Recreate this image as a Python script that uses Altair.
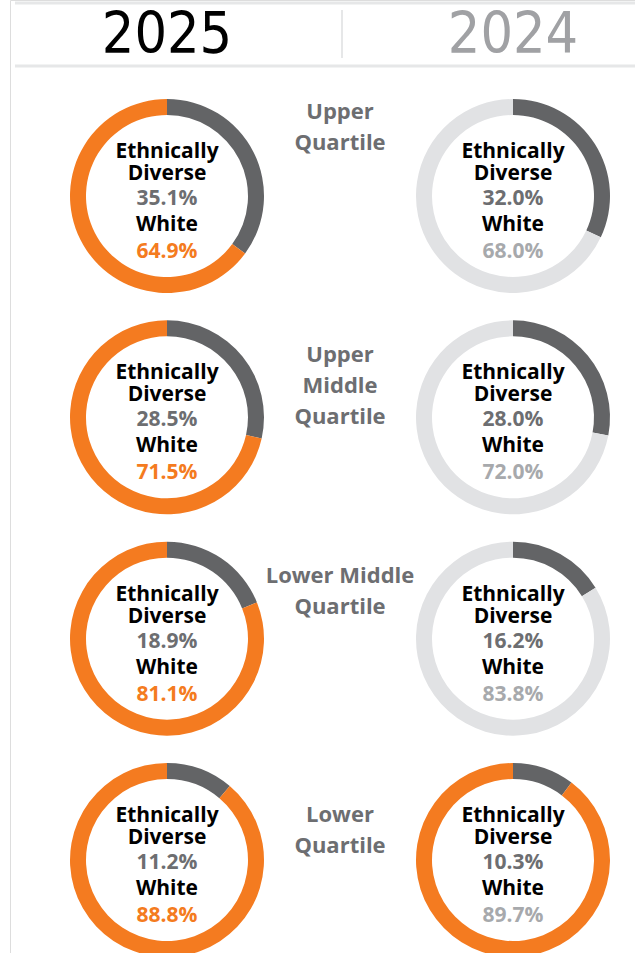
import altair as alt
import pandas as pd

# ---------------- data ----------------
years = ["2025", "2024"]
quartiles = ["Upper Quartile", "Upper Middle Quartile", "Lower Middle Quartile", "Lower Quartile"]
quartile_labels = ["Upper\nQuartile", "Upper\nMiddle\nQuartile", "Lower Middle\nQuartile", "Lower\nQuartile"]
diverse_2025 = [35.1, 28.5, 18.9, 11.2]
white_2025 = [64.9, 71.5, 81.1, 88.8]
diverse_2024 = [32.0, 28.0, 16.2, 10.3]
white_2024 = [68.0, 72.0, 83.8, 89.7]

# ---------------- styles ----------------
ORANGE = "#F47B20"
DARK = "#636466"
LIGHT = "#E1E2E4"
PCT_GRAY = "#6D6E71"
PCT_LIGHT = "#A7A9AC"
LINE = "#E6E7E8"
FONT = "Open Sans"
HEAD_FONT = "DejaVu Sans Condensed, Liberation Sans Narrow, Roboto"

series = {"2025": (diverse_2025, white_2025), "2024": (diverse_2024, white_2024)}

ring_rows, text_rows = [], []
for year in years:
    div, wht = series[year]
    for i, q in enumerate(quartiles):
        white_tone = "orange" if (year == "2025" or q == "Lower Quartile") else "light"
        ring_rows.append(dict(col=year, quartile=q, order=0, value=div[i], tone="dark"))
        ring_rows.append(dict(col=year, quartile=q, order=1, value=wht[i], tone=white_tone))
        text_rows.append(dict(col=year, quartile=q,
                              diverse=f"{div[i]:.1f}%", white=f"{wht[i]:.1f}%",
                              tone="orange" if year == "2025" else "pctlight"))

ring_df = pd.DataFrame(ring_rows)
text_df = pd.DataFrame(text_rows)
label_df = pd.DataFrame({"col": ["mid"] * 4, "quartile": quartiles, "label": quartile_labels})
head_df = pd.DataFrame({"col": years, "year": years, "tone": ["head_black", "head_gray"]})
one_df = pd.DataFrame({"k": [0]})

x_scale = alt.Scale(type="point", domain=["2025", "mid", "2024"], range=[157, 503], padding=0)
y_scale = alt.Scale(type="point", domain=quartiles, range=[196, 860], padding=0)
color_scale = alt.Scale(
    domain=["dark", "orange", "light", "pctlight", "pctgray", "head_black", "head_gray"],
    range=[DARK, ORANGE, LIGHT, PCT_LIGHT, PCT_GRAY, "#000000", "#A0A1A4"],
)

X = alt.X("col:N", scale=x_scale, axis=None)
Y = alt.Y("quartile:N", scale=y_scale, axis=None)

arcs = alt.Chart(ring_df).transform_window(
    end="sum(value)", groupby=["col", "quartile"], sort=[alt.SortField("order")], frame=[None, 0]
).transform_calculate(
    start="datum.end - datum.value"
).mark_arc(outerRadius=97, innerRadius=81).encode(
    x=X, y=Y,
    theta=alt.Theta("start:Q", scale=alt.Scale(domain=[0, 100])),
    theta2="end:Q",
    color=alt.Color("tone:N", scale=color_scale, legend=None),
)

text_base = alt.Chart(text_df)
def const_text(txt, dy):
    return text_base.mark_text(text=txt, dy=dy, font=FONT, fontWeight="bold", fontSize=21,
                               color="#000000", align="center", baseline="middle").encode(x=X, y=Y)

t1 = const_text("Ethnically", -44)
t2 = const_text("Diverse", -22)
t3 = text_base.mark_text(dy=3, font=FONT, fontWeight="bold", fontSize=21, color=PCT_GRAY,
                         align="center", baseline="middle").encode(x=X, y=Y, text="diverse:N")
t4 = const_text("White", 29)
t5 = text_base.mark_text(dy=56, font=FONT, fontWeight="bold", fontSize=21,
                         align="center", baseline="middle").encode(
    x=X, y=Y, text="white:N", color=alt.Color("tone:N", scale=color_scale, legend=None))

label_dys = [-84, -62, -63, -45]
labels = []
for q, dy in zip(quartiles, label_dys):
    labels.append(
        alt.Chart(label_df).transform_filter(alt.datum.quartile == q).mark_text(
            dy=dy, font=FONT, fontWeight="bold", fontSize=22, color=PCT_GRAY, lineBreak="\n",
            lineHeight=31, align="center", baseline="middle").encode(x=X, y=Y, text="label:N")
    )

header = alt.Chart(head_df).mark_text(font=HEAD_FONT, fontSize=57, align="center",
                                      baseline="middle").encode(
    x=X, y=alt.value(36), text="year:N",
    color=alt.Color("tone:N", scale=color_scale, legend=None))

rule_top = alt.Chart(one_df).mark_rule(color=LINE, strokeWidth=3).encode(
    x=alt.value(5), x2=alt.value(625), y=alt.value(3))
rule_bot = alt.Chart(one_df).mark_rule(color=LINE, strokeWidth=3).encode(
    x=alt.value(5), x2=alt.value(625), y=alt.value(66))
rule_mid = alt.Chart(one_df).mark_rule(color=LINE, strokeWidth=2).encode(
    x=alt.value(332), y=alt.value(10), y2=alt.value(58))

chart = alt.layer(rule_top, rule_bot, rule_mid, header, arcs, t1, t2, t3, t4, t5, *labels).properties(
    width=625, height=953,
    autosize=alt.AutoSizeParams(type="none"),
    padding={"left": 10, "top": 0, "right": 0, "bottom": 0},
).configure_view(stroke=None, strokeWidth=0).configure(background="white")

chart.save("out.html", embed_options={"renderer": "svg", "actions": False})
